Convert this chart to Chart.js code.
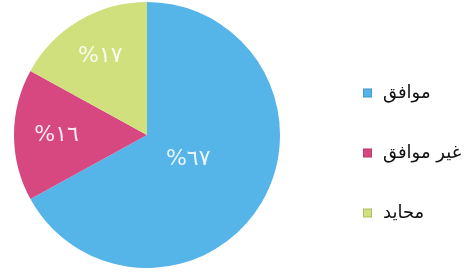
<!DOCTYPE html>
<html>
<head>
<meta charset="utf-8">
<script src="https://cdn.jsdelivr.net/npm/chart.js@4.4.1/dist/chart.umd.min.js"></script>
<style>
    html, body { margin: 0; padding: 0; background: #fff; }
    #wrap { width: 474px; height: 272px; position: relative; }
</style>
</head>
<body>
<div id="wrap"><canvas id="pieChart"></canvas></div>
<script>
const labels = ['موافق', 'غير موافق', 'محايد'];
const values = [67, 16, 17];
const colors = ['#55b4e8', '#d6487f', '#cfe07c'];

const arabicDigits = '٠١٢٣٤٥٦٧٨٩';
const toArabic = (n) => String(n).replace(/[0-9]/g, d => arabicDigits[d]);

// percent labels inside the slices
const sliceLabels = {
    id: 'sliceLabels',
    afterDatasetsDraw(chart, args, opts) {
        const ctx = chart.ctx;
        const meta = chart.getDatasetMeta(0);
        ctx.save();
        ctx.font = '22px "DejaVu Sans", sans-serif';
        ctx.fillStyle = 'rgba(255, 255, 255, 0.88)';
        ctx.textAlign = 'center';
        ctx.textBaseline = 'middle';
        ctx.direction = 'ltr';
        meta.data.forEach((arc, i) => {
            const p = arc.getProps(['x', 'y', 'startAngle', 'endAngle', 'outerRadius'], true);
            const mid = (p.startAngle + p.endAngle) / 2;
            const r = p.outerRadius * opts.radius[i];
            ctx.fillText('%' + toArabic(values[i]), p.x + Math.cos(mid) * r, p.y + Math.sin(mid) * r);
        });
        ctx.restore();
    }
};

// legend on the right: box on the left, text after it
const sideLegend = {
    id: 'sideLegend',
    afterDraw(chart, args, opts) {
        const ctx = chart.ctx;
        ctx.save();
        ctx.font = '18px "DejaVu Sans", sans-serif';
        ctx.textBaseline = 'middle';
        ctx.textAlign = 'left';
        ctx.direction = 'ltr';
        chart.data.labels.forEach((lbl, i) => {
            const y = opts.top + i * opts.gap;
            const c = chart.data.datasets[0].backgroundColor[i];
            ctx.fillStyle = c;
            ctx.fillRect(opts.x, y - 4.5, 9, 9);
            ctx.strokeStyle = 'rgba(0,0,0,0.15)';
            ctx.lineWidth = 1;
            ctx.strokeRect(opts.x + 0.5, y - 4, 8, 8);
            ctx.fillStyle = '#111';
            ctx.fillText(lbl, opts.x + 20, y);
        });
        ctx.restore();
    }
};

new Chart(document.getElementById('pieChart').getContext('2d'), {
    type: 'pie',
    data: {
        labels: labels,
        datasets: [{
            data: values,
            backgroundColor: colors,
            borderWidth: 0
        }]
    },
    options: {
        responsive: true,
        maintainAspectRatio: false,
        animation: false,
        layout: {
            padding: { left: 0, right: 180, top: 2, bottom: 4 }
        },
        plugins: {
            legend: { display: false },
            tooltip: { enabled: false },
            sliceLabels: { radius: [0.36, 0.68, 0.69] },
            sideLegend: { x: 363, top: 93, gap: 60 }
        }
    },
    plugins: [sliceLabels, sideLegend]
});
</script>
</body>
</html>
